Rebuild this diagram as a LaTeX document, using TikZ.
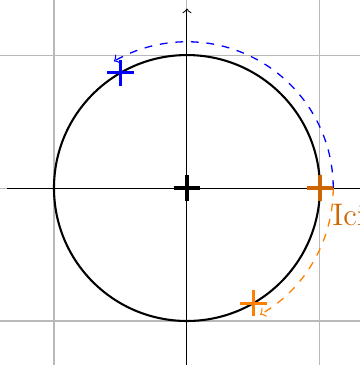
\documentclass[tikz,border=0pt]{standalone}
\colorlet{icicol}{orange!80!black}
\tikzset{
  axis/.style={->, line width=0.4pt},
  markline/.style={very thick},
  travel/.style={dashed, ->, line width=0.5pt},
  gridline/.style={gray!55, line width=0.4pt},
}
\begin{document}
\begin{tikzpicture}[scale=1.8]
\clip (-1.406,-1.331) rectangle (1.301,1.414);
\coordinate (O) at (0,0);
\coordinate (A) at (0:1);
\coordinate (B) at (120:1);
\coordinate (C) at (-60:1);
\draw[gridline] (-1.5,-1.5) grid (1.5,1.5);
\draw[axis] (-1.35,0) -- (1.35,0);
\draw[axis] (0,-1.5) -- (0,1.35);
\draw[thick] (O) circle[radius=1];
\draw[travel, blue] (0:1.1) arc[start angle=0, end angle=120, radius=1.1];
\draw[travel, orange] (0:1.1) arc[start angle=0, end angle=-60, radius=1.1];
\draw[markline, black] (O) ++(-0.1,0) -- ++(0.2,0) (O) ++(0,-0.1) -- ++(0,0.2);
\draw[markline, blue] (B) ++(-0.1,0) -- ++(0.2,0) (B) ++(0,-0.1) -- ++(0,0.2);
\draw[markline, orange] (C) ++(-0.1,0) -- ++(0.2,0) (C) ++(0,-0.1) -- ++(0,0.2);
\draw[markline, icicol] (A) ++(-0.1,0) -- ++(0.2,0) (A) ++(0,-0.1) -- ++(0,0.2);
\node[anchor=base west, inner sep=0pt, text=icicol, font=\large] (lbl) at (1.09,-0.285) {Ici};
\end{tikzpicture}
\end{document}
